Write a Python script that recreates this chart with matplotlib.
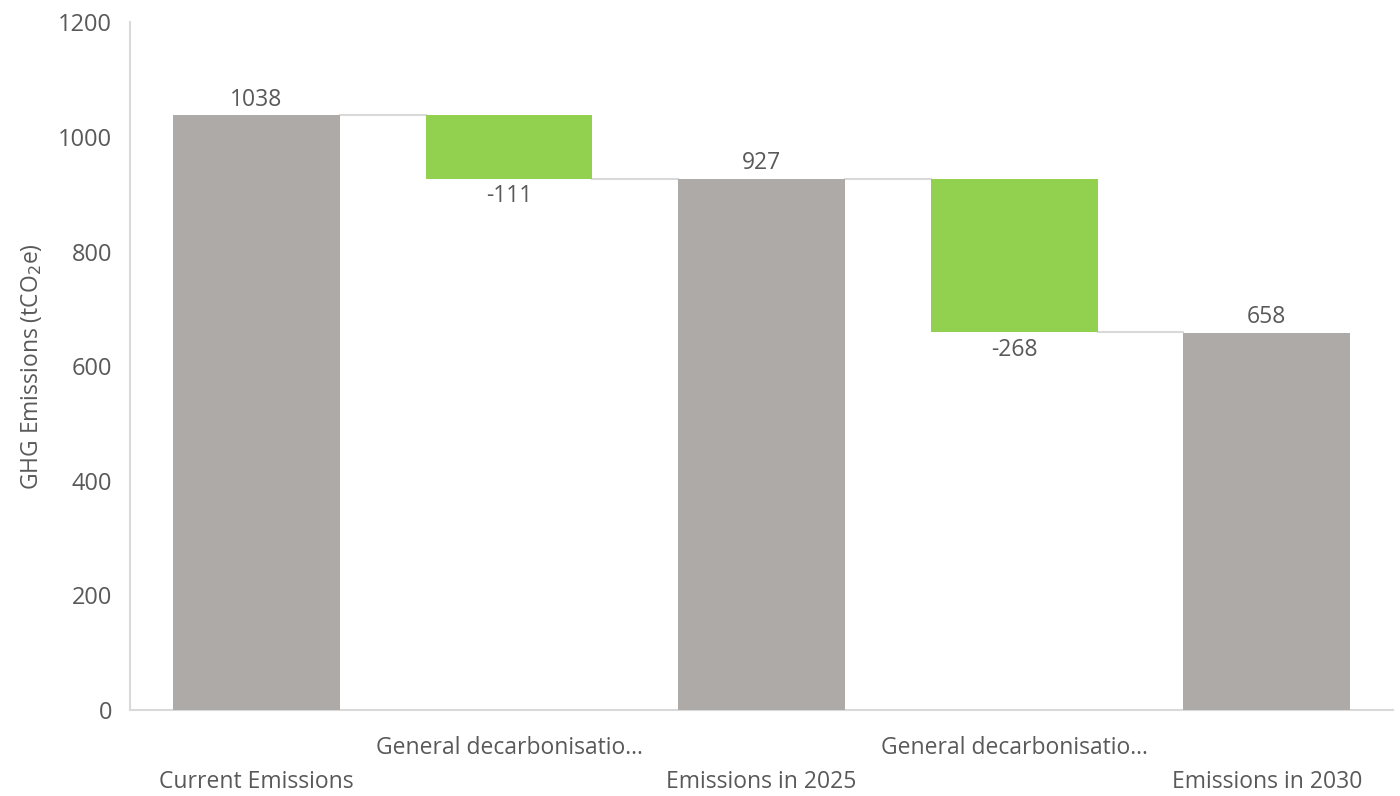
import numpy as np
import matplotlib.pyplot as plt

plt.rcParams['font.family'] = ['Open Sans', 'DejaVu Sans']

# waterfall steps
categories = ['Current Emissions', 'General decarbonisatio...', 'Emissions in 2025',
              'General decarbonisatio...', 'Emissions in 2030']
values = [1038, -111, 927, -268, 658]
is_total = [True, False, True, False, True]

grey = '#ADAAA7'
green = '#92D050'
text_col = '#595959'
line_col = '#D9D9D9'

# bottoms and heights for each bar
bottoms, heights, tops = [], [], []
level = 0
for v, tot in zip(values, is_total):
    if tot:
        level = v
        bottoms.append(0)
        heights.append(v)
    else:
        new = level + v
        bottoms.append(new)
        heights.append(-v)
        level = new
    tops.append(level)

fig, ax = plt.subplots(figsize=(14, 7.96), dpi=100)
fig.subplots_adjust(left=0.093, right=0.995, top=0.972, bottom=0.108)

x = np.arange(len(values))
w = 0.66
colors = [grey if t else green for t in is_total]
ax.bar(x, heights, bottom=bottoms, width=w, color=colors, zorder=3)

# connectors between neighbouring bars
for i in range(len(values) - 1):
    ax.plot([x[i] + w / 2, x[i + 1] - w / 2], [tops[i], tops[i]],
            color=line_col, lw=1.5, zorder=2)

# value labels
fs = 16.5
for i, v in enumerate(values):
    if is_total[i]:
        ax.text(x[i], bottoms[i] + heights[i] + 6, f'{v}', ha='center', va='bottom',
                fontsize=fs, color=text_col)
    else:
        ax.text(x[i], bottoms[i] - 10, f'{v}', ha='center', va='top',
                fontsize=fs, color=text_col)

ax.set_xlim(-0.5, 4.5)
ax.set_ylim(0, 1200)
ax.set_yticks(range(0, 1201, 200))
ax.tick_params(axis='y', length=0, labelsize=17, labelcolor=text_col, pad=13)
ax.set_xticks([])

# staggered category labels
for i, c in enumerate(categories):
    yoff = -0.055 if i % 2 else -0.104
    ax.text(x[i], yoff, c, transform=ax.get_xaxis_transform(), ha='center', va='center',
            fontsize=fs, color=text_col)

ax.set_ylabel('GHG Emissions (tCO$_2$e)', fontsize=16.5, color=text_col, labelpad=10)

for s in ['top', 'right']:
    ax.spines[s].set_visible(False)
for s in ['left', 'bottom']:
    ax.spines[s].set_color(line_col)
    ax.spines[s].set_linewidth(1.5)

fig.savefig('out.png', dpi=100)
